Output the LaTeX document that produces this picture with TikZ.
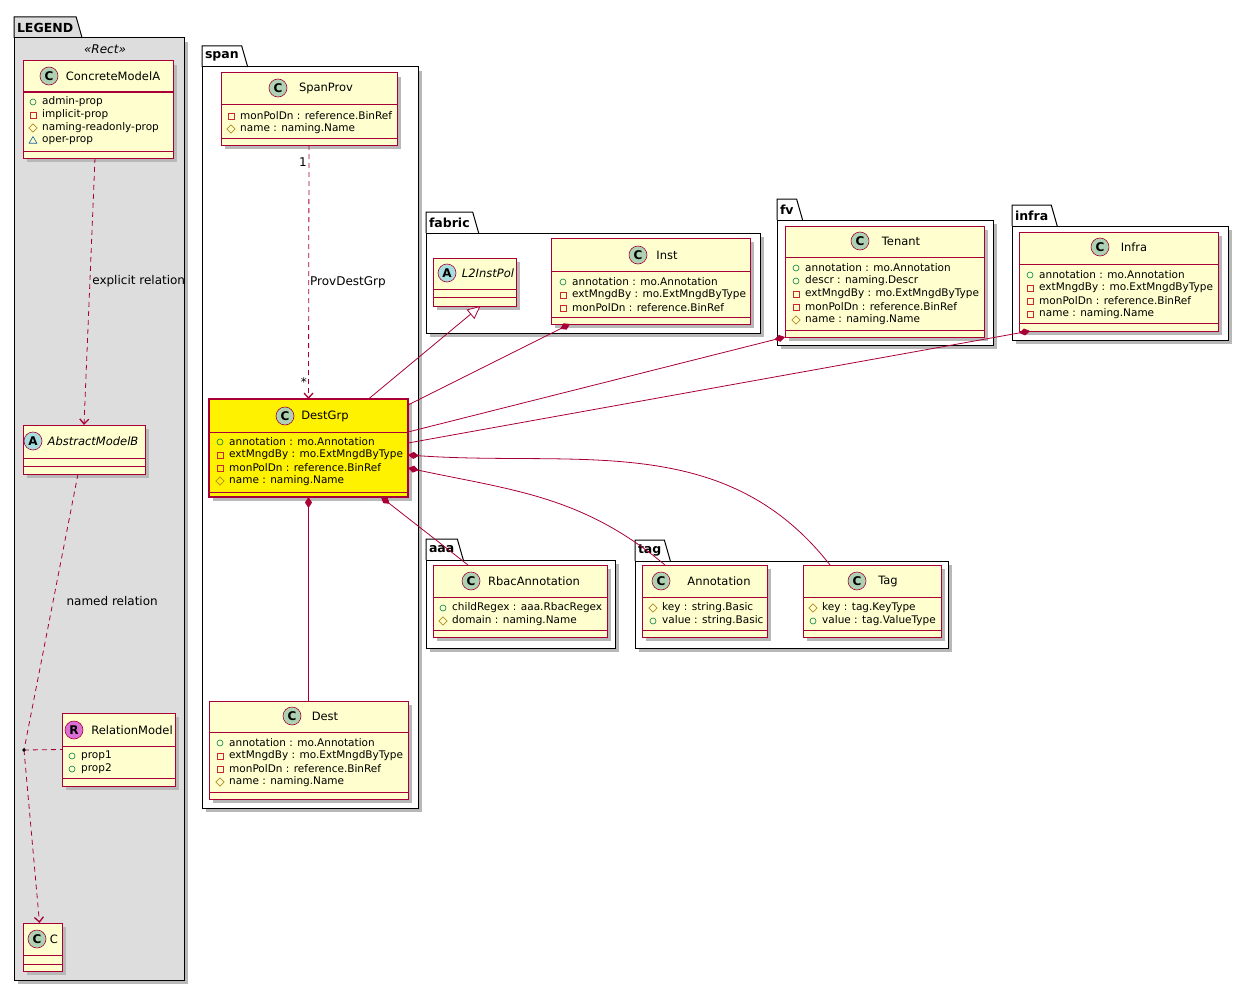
\documentclass[tikz,border=0pt]{standalone}
\usepackage{fontspec}
\setmainfont{DejaVu Sans}
\usetikzlibrary{arrows.meta,shapes.geometric}

\definecolor{umlred}{HTML}{A80036}
\definecolor{umlfill}{HTML}{FEFECE}
\definecolor{legendgray}{HTML}{DDDDDD}
\definecolor{iconC}{HTML}{ADD1B2}
\definecolor{iconA}{HTML}{A9DCDF}
\definecolor{iconR}{HTML}{DA70D6}
\definecolor{vgreen}{HTML}{038048}
\definecolor{vred}{HTML}{C82930}
\definecolor{vyellow}{HTML}{B38D22}
\definecolor{vblue}{HTML}{1963A0}

\tikzset{
  boxshadow/.style={fill=black!28},
  classbox/.style={draw=umlred, fill=umlfill, line width=1pt, inner sep=0, outer sep=0, anchor=north west},
  divider/.style={draw=umlred, line width=1pt},
  icon/.style={circle, draw=umlred, line width=0.6pt, minimum size=18pt, inner sep=0,
    font=\fontsize{12}{12}\selectfont\bfseries},
  classname/.style={inner sep=0, font=\fontsize{11.5}{13}\selectfont},
  attr/.style={anchor=west, inner sep=0, font=\fontsize{10.5}{12}\selectfont},
  vpub/.style={circle, draw=vgreen, minimum size=6pt, inner sep=0, line width=0.6pt},
  vpriv/.style={rectangle, draw=vred, minimum size=6pt, inner sep=0, line width=0.6pt},
  vprot/.style={diamond, draw=vyellow, minimum size=8.5pt, inner sep=0, line width=0.6pt},
  vpkg/.style={regular polygon, regular polygon sides=3, draw=vblue, minimum size=9pt, inner sep=0, line width=0.6pt},
  pkgtab/.style={anchor=south west, minimum height=21pt, inner xsep=3pt, inner ysep=0, outer sep=0,
    font=\fontsize{12.5}{14}\selectfont\bfseries},
  pkgline/.style={draw=black, line width=1pt},
  link/.style={draw=umlred, line width=0.8pt},
  dep/.style={link, dash pattern=on 5pt off 4pt, -{Straight Barb[length=5pt,width=9pt,line width=1.3pt]}},
  comp/.style={link, {Diamond[length=11pt,width=7pt]}-},
  inherit/.style={link, -{Triangle[open,fill=white,length=13pt,width=12pt]}},
  rellabel/.style={inner sep=1pt, font=\fontsize{12}{14}\selectfont},
}

% class box: name, x1, y1, x2, y2, divider 1, divider 2
\newcommand{\umlbox}[8][]{%
  \fill[boxshadow] (#3+4,#4+4) rectangle (#5+4,#6+4);
  \node[classbox, #1, minimum width={(#5-#3)*1pt}, minimum height={(#6-#4)*1pt}] (#2) at (#3,#4) {};
  \draw[divider] (#3,#7) -- (#5,#7) (#3,#8) -- (#5,#8);
}
% attribute lines: prefix, x, y of first line, list of visibility/text
\newcommand{\attrlist}[4]{%
  \foreach \vis/\txt [count=\i] in {#4} {
    \node[\vis] (#1-v\i) at (#2,{#3+13*(\i-1)}) {};
    \node[attr] (#1-a\i) at ({#2+9},{#3+13*(\i-1)}) {\txt};
  }
}
% package: fill, tab name, label, x1, y1, x2, y2
\newcommand{\umlpackage}[7][white]{%
  \fill[boxshadow] (#4+4,#5+4) rectangle (#6+4,#7+4);
  \fill[#1] (#4,#5) rectangle (#6,#7);
  \node[pkgtab, fill=#1] (#2) at (#4,#5) {#3};
  \fill[#1] (#2.north east) -- ([xshift=6pt]#2.south east) -- (#2.south east) -- cycle;
  \draw[pkgline] (#2.south west) -- (#2.north west) -- (#2.north east) -- ([xshift=6pt]#2.south east);
  \draw[pkgline] (#4,#5) rectangle (#6,#7);
}

\begin{document}
\begin{tikzpicture}[x=1pt, y=-1pt]
  \useasboundingbox (0,0) rectangle (1248,990);

  % Packages
  \umlpackage[legendgray]{legendpkg}{LEGEND}{14}{38}{184}{980}
  \umlpackage{spanpkg}{span}{202}{67}{418}{808}
  \umlpackage{fabricpkg}{fabric}{426}{233}{760}{333}
  \umlpackage{fvpkg}{fv}{777}{220}{993}{345}
  \umlpackage{infrapkg}{infra}{1012}{226}{1228}{340}
  \umlpackage{aaapkg}{aaa}{426}{560}{615}{648}
  \umlpackage{tagpkg}{tag}{635}{561}{948}{648}
  \node[classname, font=\fontsize{12}{14}\selectfont\itshape] (legend-stereo) at (105,49) {«Rect»};

  % Legend classes
  \umlbox{concretemodela}{23}{61}{173}{158}{92}{151}
  \node[icon, fill=iconC] (concretemodela-icon) at (49,76) {C};
  \node[classname] (concretemodela-name) at (113,76) {ConcreteModelA};
  \attrlist{concretemodela}{33}{102}{vpub/admin-prop, vpriv/implicit-prop, vprot/naming-readonly-prop, vpkg/oper-prop}

  \umlbox{abstractmodelb}{23}{425}{145}{474}{458}{466}
  \node[icon, fill=iconA] (abstractmodelb-icon) at (33,441) {A};
  \node[classname, font=\fontsize{11.5}{13}\selectfont\itshape] (abstractmodelb-name) at (93,441) {AbstractModelB};

  \umlbox{relationmodel}{62}{713}{175}{786}{746}{778}
  \node[icon, fill=iconR] (relationmodel-icon) at (74,730) {R};
  \node[classname] (relationmodel-name) at (132,730) {RelationModel};
  \attrlist{relationmodel}{72}{756}{vpub/prop1, vpub/prop2}

  \umlbox{cbox}{23}{923}{62}{971}{955}{964}
  \node[icon, fill=iconC] (cbox-icon) at (37,939) {C};
  \node[classname] (cbox-name) at (54,939) {C};

  % span
  \umlbox{spanprov}{221}{73}{397}{145}{104}{138}
  \node[icon, fill=iconC] (spanprov-icon) at (278,88) {C};
  \node[classname] (spanprov-name) at (326,88) {SpanProv};
  \attrlist{spanprov}{231}{116}{vpriv/monPolDn : reference.BinRef, vprot/name : naming.Name}

  \umlbox[fill=yellow, line width=1.6pt]{destgrp}{209}{399}{408}{497}{432}{492}
  \node[icon, fill=iconC] (destgrp-icon) at (285,416) {C};
  \node[classname] (destgrp-name) at (325,416) {DestGrp};
  \attrlist{destgrp}{220}{442}{vpub/annotation : mo.Annotation, vpriv/extMngdBy : mo.ExtMngdByType, vpriv/monPolDn : reference.BinRef, vprot/name : naming.Name}

  \umlbox{dest}{209}{701}{408}{799}{732}{792}
  \node[icon, fill=iconC] (dest-icon) at (292,716) {C};
  \node[classname] (dest-name) at (325,716) {Dest};
  \attrlist{dest}{220}{743}{vpub/annotation : mo.Annotation, vpriv/extMngdBy : mo.ExtMngdByType, vpriv/monPolDn : reference.BinRef, vprot/name : naming.Name}

  % fabric
  \umlbox{l2instpol}{433}{258}{516}{306}{289}{297}
  \node[icon, fill=iconA] (l2instpol-icon) at (447,273) {A};
  \node[classname, font=\fontsize{11.5}{13}\selectfont\itshape] (l2instpol-name) at (488,273) {L2InstPol};

  \umlbox{inst}{551}{238}{750}{324}{271}{317}
  \node[icon, fill=iconC] (inst-icon) at (638,255) {C};
  \node[classname] (inst-name) at (667,255) {Inst};
  \attrlist{inst}{563}{282}{vpub/annotation : mo.Annotation, vpriv/extMngdBy : mo.ExtMngdByType, vpriv/monPolDn : reference.BinRef}

  % fv
  \umlbox{tenant}{785}{226}{984}{337}{257}{330}
  \node[icon, fill=iconC] (tenant-icon) at (860,241) {C};
  \node[classname] (tenant-name) at (901,241) {Tenant};
  \attrlist{tenant}{796}{268}{vpub/annotation : mo.Annotation, vpub/descr : naming.Descr, vpriv/extMngdBy : mo.ExtMngdByType, vpriv/monPolDn : reference.BinRef, vprot/name : naming.Name}

  % infra
  \umlbox{infracls}{1019}{232}{1218}{331}{264}{323}
  \node[icon, fill=iconC] (infracls-icon) at (1100,247) {C};
  \node[classname] (infracls-name) at (1134,247) {Infra};
  \attrlist{infracls}{1030}{275}{vpub/annotation : mo.Annotation, vpriv/extMngdBy : mo.ExtMngdByType, vpriv/monPolDn : reference.BinRef, vpriv/name : naming.Name}

  % aaa
  \umlbox{rbac}{433}{565}{607}{637}{597}{630}
  \node[icon, fill=iconC] (rbac-icon) at (471,581) {C};
  \node[classname] (rbac-name) at (534,581) {RbacAnnotation};
  \attrlist{rbac}{443}{608}{vpub/childRegex : aaa.RbacRegex, vprot/domain : naming.Name}

  % tag
  \umlbox{annotation}{642}{565}{767}{637}{597}{630}
  \node[icon, fill=iconC] (annotation-icon) at (661,581) {C};
  \node[classname] (annotation-name) at (719,581) {Annotation};
  \attrlist{annotation}{653}{608}{vprot/key : string.Basic, vpub/value : string.Basic}

  \umlbox{tagcls}{803}{565}{941}{637}{597}{630}
  \node[icon, fill=iconC] (tagcls-icon) at (857,581) {C};
  \node[classname] (tagcls-name) at (888,581) {Tag};
  \attrlist{tagcls}{813}{608}{vprot/key : tag.KeyType, vpub/value : tag.ValueType}

  % Legend relations
  \draw[dep] ([xshift=-3pt]concretemodela.south) -- (abstractmodelb.north)
    node[rellabel, pos=0.46, anchor=west, xshift=1pt] (explicit-label) {explicit relation};
  \coordinate (relpoint) at (24,750);
  \draw[link, dash pattern=on 5pt off 4pt] ([xshift=-6pt]abstractmodelb.south) -- (relpoint)
    node[rellabel, pos=0.46, anchor=west, xshift=12pt] (named-label) {named relation};
  \draw[dep] (relpoint) -- ([xshift=-3pt]cbox.north);
  \draw[link, dash pattern=on 5pt off 4pt] (relpoint) -- (relationmodel.west);
  \fill (relpoint) circle (1.8pt);

  % span relations
  \draw[dep] (spanprov.south) -- (destgrp.north)
    node[rellabel, pos=0.54, anchor=west] (provdest-label) {ProvDestGrp};
  \node[rellabel, anchor=east] (provdest-one) at (308,162) {1};
  \node[rellabel, anchor=east] (provdest-many) at (308,382) {*};
  \draw[comp] (destgrp.south) -- (dest.north);
  \draw[inherit] ([xshift=60pt]destgrp.north) -- ([xshift=6pt]l2instpol.south);
  \draw[comp] ([xshift=19pt]inst.south west) -- ([yshift=-6pt]destgrp.north east);
  \draw[comp] (tenant.south west) -- ([yshift=16pt]destgrp.east);
  \draw[comp] ([xshift=11pt]infracls.south west) -- ([yshift=5pt]destgrp.east);
  \draw[comp] ([yshift=-7pt]destgrp.east) to[out=-4, in=128] ([xshift=27pt]tagcls.north west);
  \draw[comp] ([yshift=-20pt]destgrp.east) to[out=-12, in=140] ([xshift=23pt]annotation.north west);
  \draw[comp] ([xshift=-27pt]destgrp.south east) -- ([xshift=35pt]rbac.north west);
\end{tikzpicture}
\end{document}
